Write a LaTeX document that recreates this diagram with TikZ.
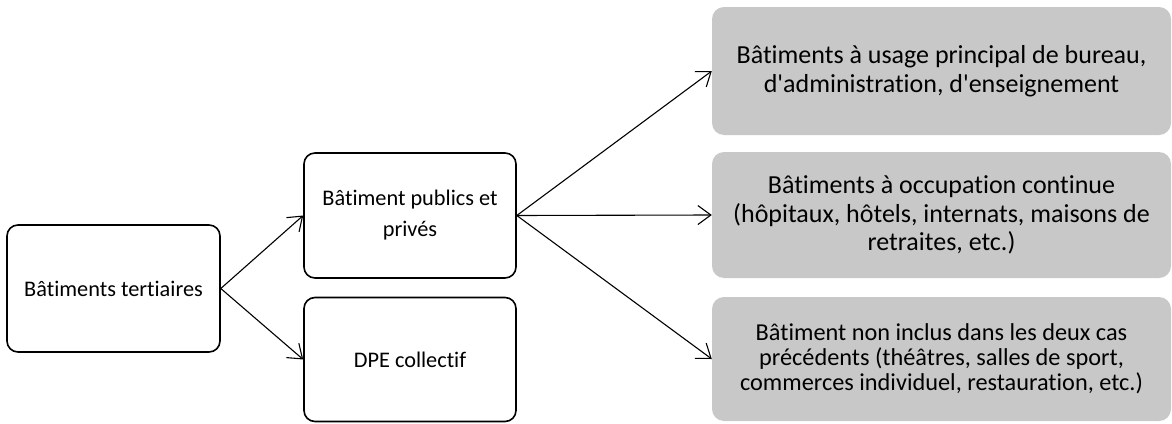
\documentclass[tikz,border=0pt]{standalone}
\usepackage{fontspec}
\setmainfont{Carlito}[Ligatures={NoCommon}]
\usetikzlibrary{arrows.meta}
\newcommand{\apos}{\textquotesingle}
\begin{document}
\begin{tikzpicture}[x=1pt,y=-1pt,
  wbox/.style={draw=black,line width=1.6pt,rounded corners=11pt,align=center,inner sep=4pt,font=\fontsize{22.3}{31}\selectfont},
  gbox/.style={fill=gboxfill,draw=none,rounded corners=12pt,align=center,inner sep=4pt},
  arr/.style={line width=1.1pt,-{Straight Barb[length=13pt,width=19pt,line width=1.1pt]}}]
\definecolor{gboxfill}{RGB}{200,200,200}
\useasboundingbox (0,0) rectangle (1172,423);
\node[wbox,minimum width=213pt,minimum height=127pt] (tert) at (113.5,288.5) {Bâtiments tertiaires};
\node[wbox,minimum width=212pt,minimum height=125pt] (pub) at (410,215.5) {Bâtiment publics et\\privés};
\node[wbox,minimum width=212pt,minimum height=124pt] (dpe) at (410,359.5) {DPE collectif};
\node[gbox,minimum width=459pt,minimum height=128pt,font=\fontsize{26}{29}\selectfont] (g1) at (941.5,71) {Bâtiments à usage principal de bureau,\\d\apos administration, d\apos enseignement};
\node[gbox,minimum width=459pt,minimum height=126pt,font=\fontsize{26}{28.5}\selectfont] (g2) at (941.5,215) {Bâtiments à occupation continue\\(hôpitaux, hôtels, internats, maisons de\\retraites, etc.)};
\node[gbox,minimum width=459pt,minimum height=124pt,font=\fontsize{24.3}{25}\selectfont] (g3) at (941.5,359) {Bâtiment non inclus dans les deux cas\\précédents (théâtres, salles de sport,\\commerces individuel, restauration, etc.)};
\draw[arr] (tert.east) -- (pub.west);
\draw[arr] (tert.east) -- (dpe.west);
\draw[arr] (pub.east) -- (g1.west);
\draw[arr] (pub.east) -- (g2.west);
\draw[arr] (pub.east) -- (g3.west);
\end{tikzpicture}
\end{document}
